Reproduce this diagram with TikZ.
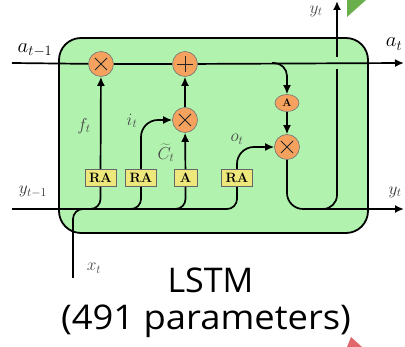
\documentclass[tikz,border=0pt]{standalone}
\usepackage{fontspec}
\setsansfont{Open Sans}
\usetikzlibrary{arrows.meta,shapes.geometric}
\definecolor{cellgreen}{HTML}{B0F2AE}
\definecolor{opfill}{HTML}{F5A25E}
\definecolor{gatefill}{HTML}{EEE77C}
\definecolor{trigreen}{HTML}{6BAF4C}
\definecolor{trired}{HTML}{E2676A}
\begin{document}
\begin{tikzpicture}[x=1pt,y=-1pt,
  wire/.style={line width=1.7pt,black},
  arr/.style={wire,-{Latex[length=9pt,width=8pt]}},
  opnode/.style={circle,fill=opfill,draw=black!55,line width=0.6pt,minimum size=25pt,inner sep=0pt},
  opx/.style={opnode,path picture={
    \draw[black!85,line width=0.8pt]
      ([xshift=-6pt,yshift=-6pt]path picture bounding box.center) -- ([xshift=6pt,yshift=6pt]path picture bounding box.center)
      ([xshift=-6pt,yshift=6pt]path picture bounding box.center) -- ([xshift=6pt,yshift=-6pt]path picture bounding box.center);}},
  opplus/.style={opnode,path picture={
    \draw[black!85,line width=0.8pt]
      ([xshift=-8pt]path picture bounding box.center) -- ([xshift=8pt]path picture bounding box.center)
      ([yshift=-8pt]path picture bounding box.center) -- ([yshift=8pt]path picture bounding box.center);}},
  actnode/.style={ellipse,fill=opfill,draw=black!55,line width=0.6pt,minimum width=24pt,minimum height=17pt,inner sep=0pt,font=\fontsize{11}{11}\selectfont\bfseries},
  gatebox/.style={rectangle,fill=gatefill,draw=black!60,line width=0.6pt,minimum width=31pt,minimum height=17pt,inner sep=0pt,font=\fontsize{13.5}{13.5}\selectfont\bfseries},
  biglabel/.style={inner sep=1pt,font=\fontsize{21}{21}\selectfont,text=black},
  midlabel/.style={inner sep=1pt,font=\fontsize{18}{18}\selectfont,text=black!80},
  smalllabel/.style={inner sep=1pt,font=\fontsize{18}{18}\selectfont,text=black!72},
  title/.style={font=\sffamily\fontsize{34}{34}\selectfont,anchor=base}
]
\useasboundingbox (0,0) rectangle (405,347);
% decorations at the slide edge
\fill[trigreen] (347,0) -- (366,0) -- (347,17) -- cycle;
\fill[trired] (347,347) -- (351,337) -- (362,347) -- cycle;
% cell
\draw[line width=1.8pt,fill=cellgreen,rounded corners=22pt] (59,38) rectangle (368,233);
% free ends
\coordinate (ain) at (12,63);
\coordinate (aout) at (404,63);
\coordinate (brA) at (272,63);
\coordinate (yin) at (12,209);
\coordinate (yout) at (404,209);
\coordinate (xin) at (73,278);
\coordinate (j0) at (86,209);
\coordinate (j1) at (88,209);
\coordinate (j2) at (129,209);
\coordinate (j3) at (174,209);
\coordinate (jy) at (320,209);
\coordinate (ytop) at (337,1);
% operators
\node[opx] (f) at (101,64) {};
\node[opplus] (plus) at (185,64) {};
\node[opx] (imul) at (185,120) {};
\node[actnode] (act) at (287,103) {A};
\node[opx] (omul) at (287,147) {};
% gates
\node[gatebox] (ra1) at (100.5,178) {RA};
\node[gatebox] (ra2) at (141,178) {RA};
\node[gatebox,minimum width=23pt] (aa) at (185.5,178) {A};
\node[gatebox] (ra4) at (237,178) {RA};
% output branch up (drawn before the top line so that it passes under it)
\draw[arr,rounded corners=14pt] (jy) -| (ytop);
\fill[cellgreen] (333,57) rectangle (341,69);
% top line
\draw[wire] (ain) -- (f);
\draw[wire] (f) -- (plus);
\draw[arr] (plus) -- (aout);
\draw[arr,rounded corners=13pt] (brA) -| (act);
\draw[arr] (act) -- (omul);
% gates to operators
\draw[arr] (ra1) -- (f);
\draw[arr,rounded corners=17pt] (ra2) |- (imul);
\draw[arr] (aa) -- (imul);
\draw[arr] (imul) -- (plus);
\draw[arr,rounded corners=17pt] (ra4) |- (omul);
% bottom input line
\draw[wire,rounded corners=10pt] (yin) -| (ra4);
\draw[wire,rounded corners=10pt] (ra1) |- (j1);
\draw[wire,rounded corners=10pt] (ra2) |- (j2);
\draw[wire,rounded corners=10pt] (aa) |- (j3);
\draw[wire,rounded corners=10pt] (xin) |- (j0);
% output line
\draw[arr,rounded corners=16pt] (omul) |- (yout);
% labels
\node[biglabel] (la1) at (35,50) {$a_{t-1}$};
\node[biglabel] (la2) at (394,44) {$a_t$};
\node[midlabel] (ly1) at (33,192) {$y_{t-1}$};
\node[midlabel] (ly2) at (395,192) {$y_t$};
\node[smalllabel] (ly3) at (316,11) {$y_t$};
\node[smalllabel] (lx) at (94,268) {$x_t$};
\node[smalllabel] (lf) at (84,126) {$f_t$};
\node[smalllabel] (li) at (132,121) {$i_t$};
\node[smalllabel] (lc) at (166,153) {$\widetilde{C}_t$};
\node[smalllabel] (lo) at (237,139) {$o_t$};
% title
\node[title] (t1) at (210.5,293) {LSTM};
\node[title,xscale=1.07] (t2) at (206,330) {(491 parameters)};
\end{tikzpicture}
\end{document}
